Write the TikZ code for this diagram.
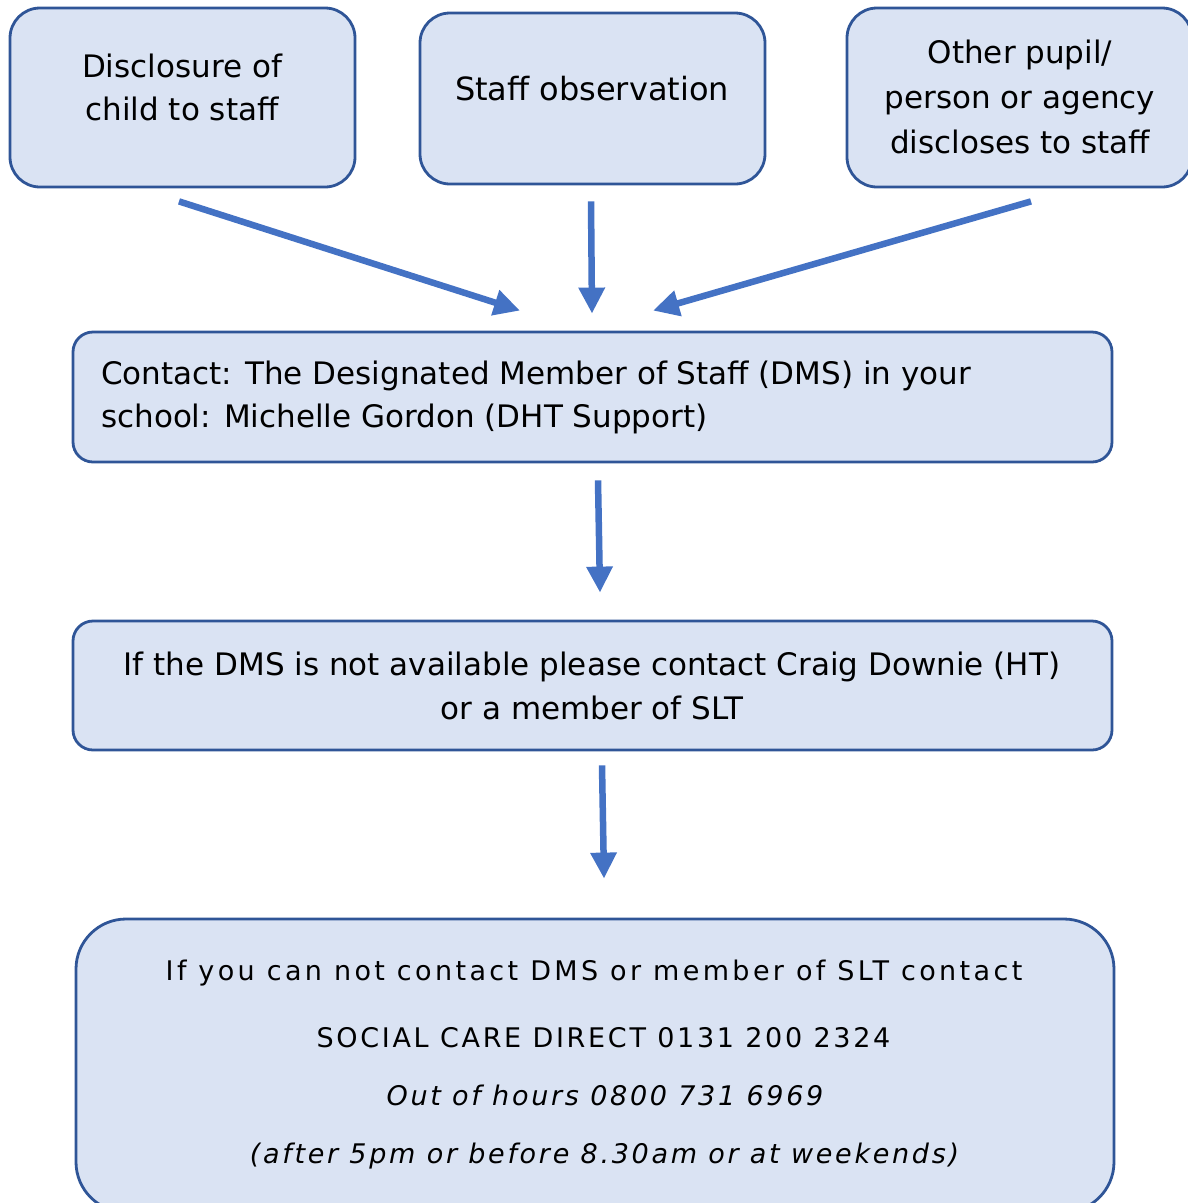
\documentclass[tikz,border=0pt]{standalone}
\usepackage{fontspec}
\setmainfont{DejaVu Sans}
\newfontfamily\spaced[LetterSpace=10]{DejaVu Sans}
\newfontfamily\wider[LetterSpace=12.5]{DejaVu Sans}
\usetikzlibrary{arrows.meta,calc}
\definecolor{boxfill}{HTML}{DAE3F3}
\definecolor{boxline}{HTML}{2F5597}
\definecolor{arrowc}{HTML}{4472C4}
\begin{document}
\begin{tikzpicture}[x=1pt,y=-1pt,
  box/.style={draw=boxline, fill=boxfill, line width=2.8pt, rectangle, inner sep=0pt},
  txt/.style={inner sep=0pt, align=center, anchor=base, font=\fontsize{31}{43}\selectfont},
  low/.style={inner sep=0pt, anchor=base, font=\spaced\fontsize{27}{30}\selectfont},
  flow/.style={draw=arrowc, line width=6.5pt, -{Triangle[width=25pt,length=26pt]}}
]
\useasboundingbox (0,0) rectangle (1188,1203);
\clip (0,0) rectangle (1188,1203);

% boxes
\node[box, rounded corners=30pt, minimum width=345pt, minimum height=179pt] (b1) at (182.5,97.5) {};
\node[box, rounded corners=30pt, minimum width=345pt, minimum height=171pt] (b2) at (592.5,98.5) {};
\node[box, rounded corners=30pt, minimum width=345pt, minimum height=179pt] (b3) at (1019.5,97.5) {};
\node[box, rounded corners=20pt, minimum width=1039pt, minimum height=130pt] (b4) at (592.5,397) {};
\node[box, rounded corners=20pt, minimum width=1039pt, minimum height=129pt] (b5) at (592.5,685.5) {};
\node[box, rounded corners=50pt, minimum width=1038pt, minimum height=293pt] (b6) at (595,1065.5) {};

% texts (base anchor = baseline of last line)
\node[txt] (t1) at (182,120) {Disclosure of\\child to staff};
\node[txt, font=\fontsize{32}{43}\selectfont] (t2) at (592,100) {Staff observation};
\node[txt, font=\fontsize{31}{45}\selectfont] (t3) at (1020,153) {Other pupil/\\person or agency\\discloses to staff};
\node[txt, anchor=base west, align=left] (t4) at (101,427) {Contact: The Designated Member of Staff (DMS) in your\\school: Michelle Gordon (DHT Support)};
\node[txt, font=\fontsize{31}{44}\selectfont] (t5) at (592,719) {If the DMS is not available please contact Craig Downie (HT)\\or a member of SLT};
\node[low, font=\wider\fontsize{27}{30}\selectfont] (t6a) at (594,980) {If you can not contact DMS or member of SLT contact};
\node[low] (t6b) at (603.5,1047) {SOCIAL CARE DIRECT 0131 200 2324};
\node[low, font=\spaced\itshape\fontsize{27}{30}\selectfont] (t6c) at (605,1105) {Out of hours 0800 731 6969};
\node[low, font=\spaced\itshape\fontsize{27}{30}\selectfont] (t6d) at (604.5,1163) {(after 5pm or before 8.30am or at weekends)};

% connectors
\coordinate (s1) at ($(b1.south)+(-3.5,13)$);
\coordinate (e1) at ($(b4.north)+(-72.5,-20)$);
\coordinate (s2) at ($(b2.south)+(-1.5,16)$);
\coordinate (e2) at ($(b4.north)+(-0.5,-17)$);
\coordinate (s3) at ($(b3.south)+(11.5,13)$);
\coordinate (e3) at ($(b4.north)+(60.5,-20)$);
\coordinate (s4) at ($(b4.south)+(5.5,17)$);
\coordinate (e4) at ($(b5.north)+(7.5,-27)$);
\coordinate (s5) at ($(b5.south)+(9.5,14)$);
\coordinate (e5) at ($(b6.north)+(9,-39)$);
\draw[flow] (s1) -- (e1);
\draw[flow] (s2) -- (e2);
\draw[flow] (s3) -- (e3);
\draw[flow] (s4) -- (e4);
\draw[flow] (s5) -- (e5);
\end{tikzpicture}
\end{document}
